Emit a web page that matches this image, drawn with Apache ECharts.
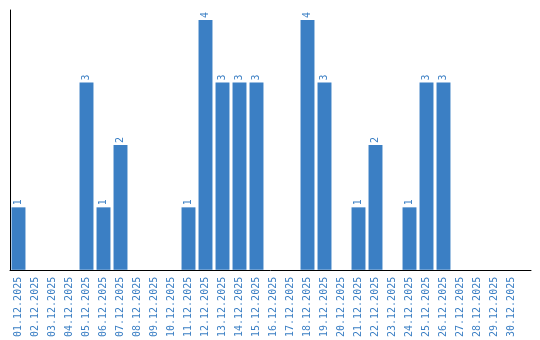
<!DOCTYPE html>
<html>
<head>
<meta charset="utf-8">
<script src="https://cdn.jsdelivr.net/npm/echarts@6/dist/echarts.min.js"></script>
<style>html,body{margin:0;padding:0;background:#fff}#c{width:540px;height:340px}</style>
</head>
<body>
<div id="c"></div>
<script>
const categories = ["01.12.2025","02.12.2025","03.12.2025","04.12.2025","05.12.2025","06.12.2025","07.12.2025","08.12.2025","09.12.2025","10.12.2025","11.12.2025","12.12.2025","13.12.2025","14.12.2025","15.12.2025","16.12.2025","17.12.2025","18.12.2025","19.12.2025","20.12.2025","21.12.2025","22.12.2025","23.12.2025","24.12.2025","25.12.2025","26.12.2025","27.12.2025","28.12.2025","29.12.2025","30.12.2025"];
const values = [1,0,0,0,3,1,2,0,0,0,1,4,3,3,3,0,0,4,3,0,1,2,0,1,3,3,0,0,0,0];
const color = '#3b7fc4';
const chart = echarts.init(document.getElementById('c'), null, {renderer:'canvas'});
chart.setOption({
  animation:false,
  grid:[
    {left:10,right:20,top:10,bottom:70,containLabel:false},
    {left:10,right:9,top:10,bottom:70,containLabel:false}
  ],
  xAxis:[
    {type:'category',data:categories,gridIndex:0,
     axisLine:{show:false},
     axisTick:{show:false},
     axisLabel:{rotate:90,interval:0,color:color,fontFamily:'DejaVu Sans Mono',fontSize:10,margin:7}},
    {type:'value',gridIndex:1,min:0,max:1,
     axisLine:{show:true,lineStyle:{color:'#000',width:1}},
     axisTick:{show:false},axisLabel:{show:false},splitLine:{show:false}}
  ],
  yAxis:[
    {type:'value',gridIndex:0,min:0,max:4.16,
     axisLine:{show:true,lineStyle:{color:'#000',width:1}},
     axisTick:{show:false},axisLabel:{show:false},splitLine:{show:false}},
    {type:'value',gridIndex:1,min:0,max:1,show:false}
  ],
  series:[{type:'bar',xAxisIndex:0,yAxisIndex:0,data:values.map(v=>({value:v,label:{show:v>0}})),barCategoryGap:'18%',
    itemStyle:{color:color},
    label:{show:true,position:'top',rotate:90,align:'left',verticalAlign:'middle',distance:2,
      color:color,fontFamily:'DejaVu Sans Mono',fontSize:10}}]
});
</script>
</body>
</html>
